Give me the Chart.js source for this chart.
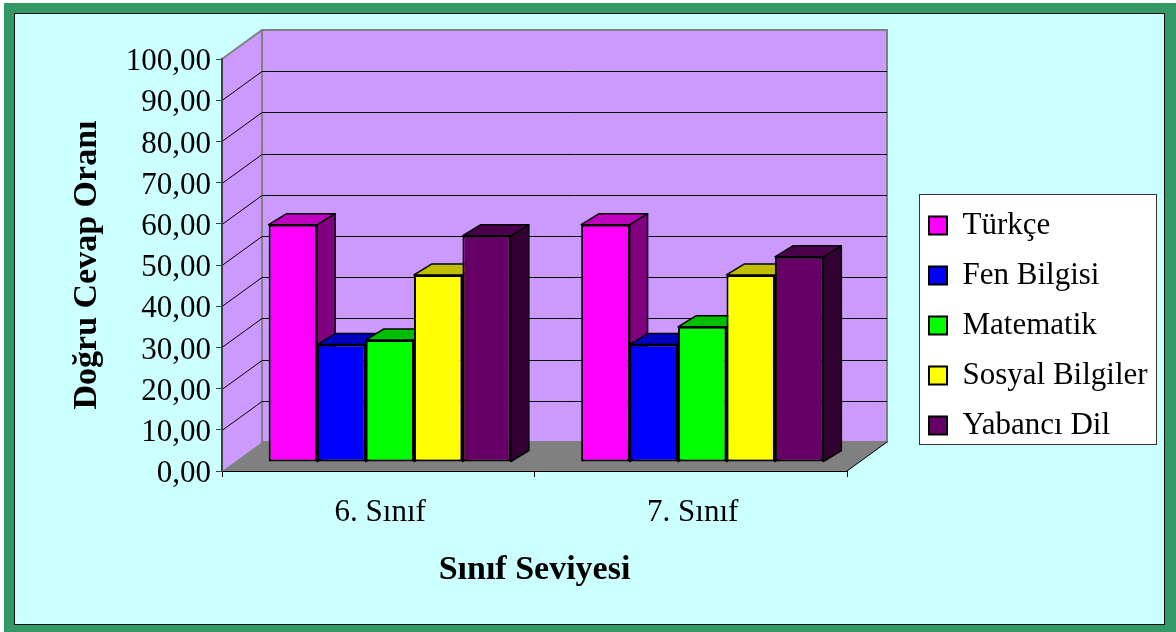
<!DOCTYPE html>
<html lang="tr">
<head>
<meta charset="utf-8">
<title>Doğru Cevap Oranı</title>
<script src="https://cdn.jsdelivr.net/npm/chart.js@4"></script>
<style>
  html, body { margin: 0; padding: 0; background: #fff; overflow: hidden; }
  #frame { position: absolute; left: 4px; top: 3px; right: 0; bottom: 0; background: #339966; }
  #panel { position: absolute; left: 10px; top: 10px; width: 1149px; height: 610px; background: #ccffff; border: 1px solid #111; }
  #chart { position: absolute; left: 0; top: 0; }
</style>
</head>
<body>
<div id="frame"><div id="panel"></div></div>
<canvas id="chart" width="1176" height="632"></canvas>
<script>
const categories = ["6. Sınıf", "7. Sınıf"];
const seriesNames = ["Türkçe", "Fen Bilgisi", "Matematik", "Sosyal Bilgiler", "Yabancı Dil"];
const turkce = [57.6, 57.6];
const fenBilgisi = [28.5, 28.5];
const matematik = [29.6, 32.8];
const sosyalBilgiler = [45.4, 45.4];
const yabanciDil = [54.9, 49.8];
const yTickLabels = ["0,00", "10,00", "20,00", "30,00", "40,00", "50,00", "60,00", "70,00", "80,00", "90,00", "100,00"];
const yTitle = "Doğru Cevap Oranı";
const xTitle = "Sınıf Seviyesi";

const frontColors = ["#ff00ff", "#0000ff", "#00ff00", "#ffff00", "#660066"];
const topColors = ["#bf00bf", "#0000bf", "#00bf00", "#bfbf00", "#4c004c"];
const sideColors = ["#800080", "#000080", "#008000", "#808000", "#330033"];

const FONT = '"Liberation Serif", "Times New Roman", serif';
const WALL = { dx: 40, dy: -29 }; // derinlik: on duzlemden arka duvara
const BAR_SHIFT = { dx: 11.5, dy: -9 }; // cubuklar zeminin ortasinda duruyor
const BAR_DEPTH = { dx: 18, dy: -11 };
const LEGEND_BOX = { left: 919, top: 194, right: 1156, bottom: 444 };

function poly(ctx, points, fill, stroke, width) {
  ctx.beginPath();
  points.forEach((p, i) => (i ? ctx.lineTo(p[0], p[1]) : ctx.moveTo(p[0], p[1])));
  ctx.closePath();
  if (fill) {
    ctx.fillStyle = fill;
    ctx.fill();
  }
  if (stroke) {
    ctx.strokeStyle = stroke;
    ctx.lineWidth = width;
    ctx.stroke();
  }
}

const scene3d = {
  id: "scene3d",
  afterLayout(chart) {
    // aciklama kutusunu grafigin sagina tasi
    const legend = chart.legend;
    legend.left = LEGEND_BOX.left - 9;
    legend.right = LEGEND_BOX.right;
    legend.top = LEGEND_BOX.top - 3;
    legend.bottom = LEGEND_BOX.bottom + 40;
    legend.width = legend.right - legend.left;
    legend.height = legend.bottom - legend.top;
  },
  beforeDraw(chart) {
    const { ctx, scales } = chart;
    const left = scales.x.left;
    const right = scales.x.right;
    const y0 = scales.y.getPixelForValue(0);
    const y100 = scales.y.getPixelForValue(100);

    ctx.save();
    // duvarlar
    poly(ctx, [[left, y0], [left + WALL.dx, y0 + WALL.dy], [left + WALL.dx, y100 + WALL.dy], [left, y100]], "#cc99ff");
    poly(ctx, [[left + WALL.dx, y0 + WALL.dy], [right + WALL.dx, y0 + WALL.dy], [right + WALL.dx, y100 + WALL.dy], [left + WALL.dx, y100 + WALL.dy]], "#cc99ff", "#808080", 2);

    // izgara cizgileri
    ctx.strokeStyle = "#000";
    ctx.lineWidth = 1;
    scales.y.ticks.forEach((tick) => {
      if (tick.value === 0 || tick.value === 100) return;
      const py = Math.round(scales.y.getPixelForValue(tick.value)) + 0.5;
      ctx.beginPath();
      ctx.moveTo(left, py);
      ctx.lineTo(left + WALL.dx, py + WALL.dy);
      ctx.lineTo(right + WALL.dx, py + WALL.dy);
      ctx.stroke();
    });

    // ust kenar
    ctx.strokeStyle = "#808080";
    ctx.lineWidth = 2;
    ctx.beginPath();
    ctx.moveTo(left, y100);
    ctx.lineTo(left + WALL.dx, y100 + WALL.dy);
    ctx.stroke();

    // zemin
    poly(ctx, [[left, y0], [right, y0], [right + WALL.dx, y0 + WALL.dy], [left + WALL.dx, y0 + WALL.dy]], "#808080");
    ctx.strokeStyle = "#000";
    ctx.lineWidth = 1;
    ctx.beginPath();
    ctx.moveTo(right, y0);
    ctx.lineTo(right + WALL.dx, y0 + WALL.dy);
    ctx.stroke();

    // aciklama kutusu arka plani
    ctx.fillStyle = "#fff";
    ctx.strokeStyle = "#333";
    ctx.lineWidth = 1;
    const w = LEGEND_BOX.right - LEGEND_BOX.left;
    const h = LEGEND_BOX.bottom - LEGEND_BOX.top;
    ctx.fillRect(LEGEND_BOX.left, LEGEND_BOX.top, w, h);
    ctx.strokeRect(LEGEND_BOX.left + 0.5, LEGEND_BOX.top + 0.5, w, h);
    ctx.restore();
  },
  beforeDatasetsDraw(chart) {
    // soldan saga ciz, sonraki cubuk oncekinin yan yuzunu ortsun
    const { ctx } = chart;
    ctx.save();
    ctx.translate(BAR_SHIFT.dx, BAR_SHIFT.dy);
    chart.data.datasets.forEach((dataset, i) => {
      chart.getDatasetMeta(i).data.forEach((bar) => {
        const { x, y, base, width } = bar.getProps(["x", "y", "base", "width"], true);
        const l = x - width / 2;
        const r = x + width / 2;
        const dx = BAR_DEPTH.dx;
        const dy = BAR_DEPTH.dy;
        ctx.lineJoin = "round";
        poly(ctx, [[r, y], [r + dx, y + dy], [r + dx, base + dy], [r, base]], sideColors[i], "#000", 1.5);
        poly(ctx, [[l, y], [l + dx, y + dy], [r + dx, y + dy], [r, y]], topColors[i], "#000", 1.5);
        bar.draw(ctx);
      });
    });
    ctx.restore();
    return false;
  },
};

new Chart(document.getElementById("chart"), {
  type: "bar",
  data: {
    labels: categories,
    datasets: [turkce, fenBilgisi, matematik, sosyalBilgiler, yabanciDil].map((values, i) => ({
      label: seriesNames[i],
      data: values,
      backgroundColor: frontColors[i],
      borderColor: "#000",
      borderWidth: 2,
      borderSkipped: false,
      barPercentage: 1,
      categoryPercentage: 0.775,
    })),
  },
  plugins: [scene3d],
  options: {
    responsive: false,
    animation: false,
    layout: { padding: { left: 67, top: 59, right: 329, bottom: 41 } },
    plugins: {
      tooltip: { enabled: false },
      legend: {
        position: "chartArea",
        align: "start",
        labels: {
          boxWidth: 18,
          boxHeight: 18,
          padding: 19,
          color: "#000",
          font: { family: FONT, size: 31 },
        },
      },
    },
    scales: {
      x: {
        afterFit(scale) {
          scale.height = 120;
        },
        grid: { drawOnChartArea: false, tickLength: 6, color: "#000" },
        border: { color: "#000", width: 1 },
        ticks: { color: "#000", padding: 17, labelOffset: 2, maxRotation: 0, font: { family: FONT, size: 31 } },
        title: { display: true, text: xTitle, color: "#000", padding: 0, font: { family: FONT, size: 34, weight: "bold" } },
      },
      y: {
        min: 0,
        max: 100,
        afterFit(scale) {
          scale.width = 155;
        },
        grid: { drawOnChartArea: false, tickLength: 6, color: "#404040" },
        border: { color: "#404040", width: 2 },
        ticks: {
          stepSize: 10,
          color: "#000",
          padding: 5,
          labelOffset: 3,
          font: { family: FONT, size: 31 },
          callback(value) {
            return yTickLabels[value / 10];
          },
        },
        title: { display: true, text: yTitle, color: "#000", padding: 0, font: { family: FONT, size: 34, weight: "bold" } },
      },
    },
  },
});
</script>
</body>
</html>
